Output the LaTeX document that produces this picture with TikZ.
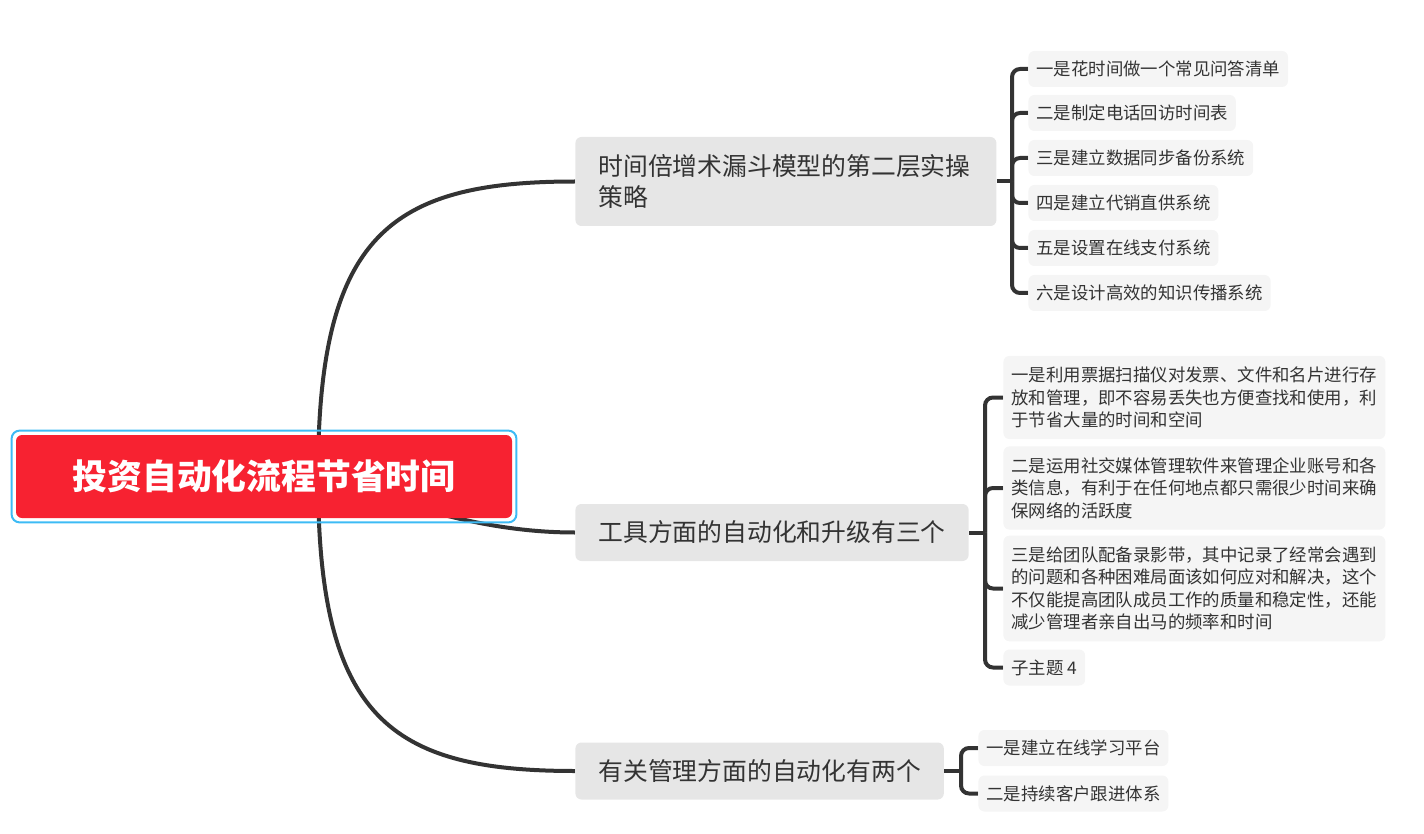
\documentclass[tikz,border=0pt]{standalone}
\usepackage{fontspec}
\usetikzlibrary{backgrounds}
\newfontfamily\cjk{Noto Sans CJK SC}
\definecolor{rootred}{HTML}{F72231}
\definecolor{ringblue}{HTML}{3DBBF5}
\definecolor{branchgray}{HTML}{E6E6E6}
\definecolor{leafgray}{HTML}{F5F5F5}
\definecolor{inkgray}{HTML}{333333}
\tikzset{
  rootbox/.style={fill=rootred, text=white, rounded corners=3pt, minimum width=248pt,
    minimum height=41.5pt, font=\cjk\bfseries\fontsize{17.4}{20}\selectfont},
  branchbox/.style={fill=branchgray, text=inkgray, rounded corners=3pt, anchor=west,
    inner xsep=11.5pt, minimum height=28.5pt, font=\cjk\fontsize{12.4}{15.5}\selectfont},
  leafbox/.style={fill=leafgray, text=inkgray, rounded corners=3pt, anchor=west,
    inner xsep=4pt, minimum height=18pt, font=\cjk\fontsize{8.7}{11}\selectfont},
  longleaf/.style={leafbox, text width=183pt, align=left, inner ysep=5.5pt,
    font=\cjk\fontsize{8.7}{11.25}\selectfont},
  link/.style={draw=inkgray, line width=2pt},
  brace/.style={link, rounded corners=4pt},
}

\begin{document}
\begin{tikzpicture}[x=0.5pt,y=-0.5pt]
\useasboundingbox (0,0) rectangle (1424,834);

% centre topic
\node[rootbox] (root) at (264,476.5) {投资自动化流程节省时间};
\draw[ringblue, line width=1pt, rounded corners=4pt]
  ([shift={(-2pt,-2pt)}]root.south west) rectangle ([shift={(2pt,2pt)}]root.north east);
\coordinate (hub) at (318,476.5);

% main topics
\node[branchbox, text width=187.5pt, align=left, minimum height=44.5pt] (b1) at (575,181.5)
  {时间倍增术漏斗模型的第二层实操\\策略};
\node[branchbox] (b2) at (575,532.5) {工具方面的自动化和升级有三个};
\node[branchbox] (b3) at (575,771) {有关管理方面的自动化有两个};

% subtopics of b1
\node[leafbox] (l1) at (1028,69) {一是花时间做一个常见问答清单};
\node[leafbox] (l2) at (1028,113) {二是制定电话回访时间表};
\node[leafbox] (l3) at (1028,158) {三是建立数据同步备份系统};
\node[leafbox] (l4) at (1028,203) {四是建立代销直供系统};
\node[leafbox] (l5) at (1028,248) {五是设置在线支付系统};
\node[leafbox] (l6) at (1028,293) {六是设计高效的知识传播系统};
\coordinate (j1) at (1012,181.5);

% subtopics of b2
\node[longleaf] (m1) at (1003,397.5)
  {一是利用票据扫描仪对发票、文件和名片进行存\\放和管理，即不容易丢失也方便查找和使用，利\\于节省大量的时间和空间};
\node[longleaf] (m2) at (1003,488)
  {二是运用社交媒体管理软件来管理企业账号和各\\类信息，有利于在任何地点都只需很少时间来确\\保网络的活跃度};
\node[longleaf] (m3) at (1003,588.5)
  {三是给团队配备录影带，其中记录了经常会遇到\\的问题和各种困难局面该如何应对和解决，这个\\不仅能提高团队成员工作的质量和稳定性，还能\\减少管理者亲自出马的频率和时间};
\node[leafbox] (m4) at (1003,667.5) {子主题 4};
\coordinate (j2) at (985,532.5);

% subtopics of b3
\node[leafbox] (n1) at (978,748) {一是建立在线学习平台};
\node[leafbox] (n2) at (978,793.5) {二是持续客户跟进体系};
\coordinate (j3) at (961,771);

\begin{scope}[on background layer]
\draw[link] (hub) .. controls (318,235) and (390,181.5) .. (b1.west);
\draw[link] (hub) .. controls (400,503) and (480,532.5) .. (b2.west);
\draw[link] (hub) .. controls (318,718) and (390,771) .. (b3.west);

\draw[link] (b1.east) -- (j1);
\foreach \n in {l1,l2,l3,l4,l5,l6}
  \draw[brace] (j1) |- (\n.west);
\draw[link] (b2.east) -- (j2);
\foreach \n in {m1,m2,m3,m4}
  \draw[brace] (j2) |- (\n.west);
\draw[link] (b3.east) -- (j3);
\foreach \n in {n1,n2}
  \draw[brace] (j3) |- (\n.west);
\end{scope}
\end{tikzpicture}
\end{document}
